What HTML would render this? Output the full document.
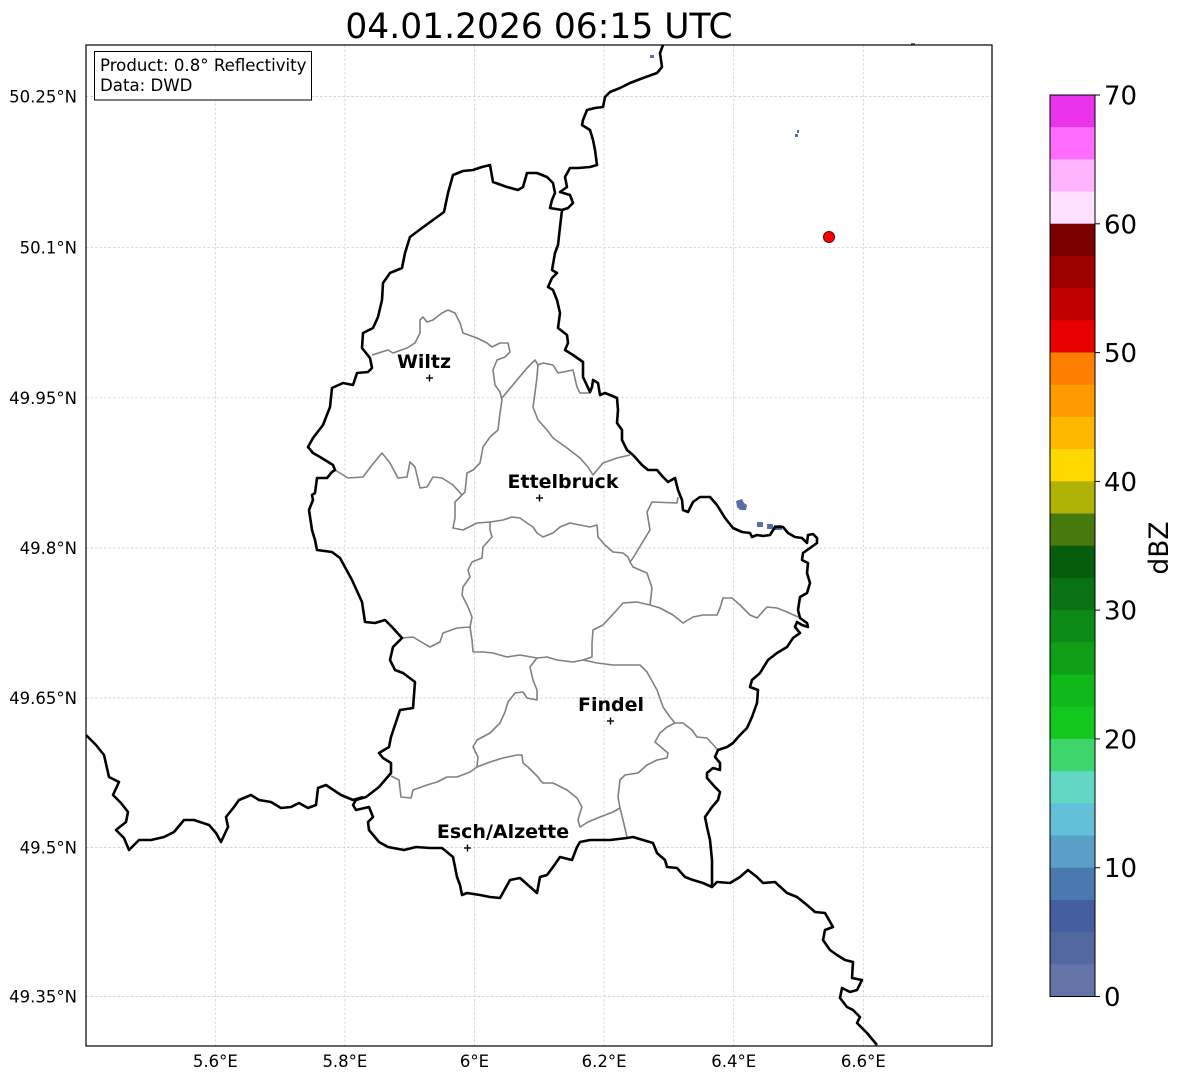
<!DOCTYPE html>
<html><head><meta charset="utf-8"><style>
html,body{margin:0;padding:0;background:#fff;}
svg{display:block;}
text{font-family:"DejaVu Sans","Liberation Sans",sans-serif;}
</style></head><body>
<svg width="1184" height="1081" viewBox="0 0 1184 1081" xmlns="http://www.w3.org/2000/svg">
<rect width="1184" height="1081" fill="#fff"/>
<text x="539" y="38" font-size="34.5" text-anchor="middle" fill="#000">04.01.2026 06:15 UTC</text>

<!-- gridlines -->
<g stroke="#c8c8c8" stroke-width="0.7" stroke-dasharray="2.5,2" fill="none">
<line x1="86" y1="96.5" x2="992" y2="96.5"/>
<line x1="86" y1="247.3" x2="992" y2="247.3"/>
<line x1="86" y1="397.8" x2="992" y2="397.8"/>
<line x1="86" y1="548" x2="992" y2="548"/>
<line x1="86" y1="698" x2="992" y2="698"/>
<line x1="86" y1="847.6" x2="992" y2="847.6"/>
<line x1="86" y1="996.5" x2="992" y2="996.5"/>
<line x1="215.3" y1="45" x2="215.3" y2="1046"/>
<line x1="344.9" y1="45" x2="344.9" y2="1046"/>
<line x1="474.5" y1="45" x2="474.5" y2="1046"/>
<line x1="604.1" y1="45" x2="604.1" y2="1046"/>
<line x1="733.7" y1="45" x2="733.7" y2="1046"/>
<line x1="863.3" y1="45" x2="863.3" y2="1046"/>
</g>

<!-- radar echoes -->
<g fill="#5a6ea6">
<polygon points="736,501 742,499 744,503 747,505 746,510 740,510 737,507"/>
<rect x="757" y="522" width="6" height="5"/>
<rect x="767" y="524" width="6" height="5"/>
<rect x="774" y="525" width="8" height="5"/>
<rect x="650" y="55" width="4" height="3"/>
<rect x="797" y="130" width="2" height="3"/>
<rect x="795" y="134" width="3" height="3"/>
<rect x="911" y="43" width="4" height="2"/>
</g>

<!-- canton lines -->
<g stroke="#808080" stroke-width="1.6" fill="none" stroke-linejoin="round">
<polyline points="372,355 388,350 393,353 407,348 415,343 420,333 420,320 423,317 427,322 433,320 442,313 448,310 455,313 460,323 463,333 477,338 487,343 492,347 500,343 508,343 510,352 505,357 497,360 493,370 495,385 500,392 502,400 500,413 498,430 490,437 483,447 480,463 473,470 467,473 465,492 462,495"/>
<polyline points="502,398 517,380 527,368 535,360 538,365 537,377 535,393 533,407 538,420 547,430 553,438 567,448 580,458 588,467 593,475 603,463 617,458 630,455"/>
<polyline points="538,365 543,363 553,365 558,373 573,370 577,387 580,393 590,393"/>
<polyline points="335,470 348,478 363,477 372,465 382,453 390,463 398,478 407,477 410,462 415,467 420,488 427,487 433,477 442,478 453,485 462,495"/>
<polyline points="462,495 455,502 455,518 453,528 463,530 477,523 490,522 503,520 512,517 520,518 527,523 533,527 537,533 543,537 553,533 560,527 570,523 580,525 590,527 597,525 598,537 605,545 613,552 623,553 628,557 630,562 633,567 647,573 652,588 650,605"/>
<polyline points="630,562 633,558 642,543 650,530 647,512 652,502 677,503 678,497"/>
<polyline points="490,522 490,530 492,537 483,547 482,558 472,562 468,570 470,577 463,587 462,595 468,607 472,617 470,627 472,640 473,652"/>
<polyline points="402,638 413,637 423,643 430,647 440,642 443,633 457,628 470,627"/>
<polyline points="473,652 483,652 493,653 507,657 520,655 537,658 547,657 557,660 573,662 583,660 592,657 592,643 593,630 603,625 615,612 623,603 637,602 650,605 660,608 673,615 683,623 693,617 703,615 717,615 720,608 723,598 732,598 740,605 750,615 757,618 767,607 777,608 787,612 798,617"/>
<polyline points="583,660 597,663 613,665 640,665 647,672 657,690 663,707 670,717 675,723 683,723 692,730 697,737 707,738 718,750"/>
<polyline points="537,658 530,667 533,680 537,690 537,700 527,698 523,692 515,693 508,702 505,712 500,723 490,733 477,740 473,747 478,757 477,767"/>
<polyline points="391,776 399,780 401,797 411,798 413,790 427,785 437,782 447,777 457,777 470,772 477,767"/>
<polyline points="477,767 490,762 503,758 517,755 522,755 523,763 528,767 533,772 538,777 540,780 543,783 553,783 567,790 577,798 582,807 580,813 578,820 580,827 588,822 600,817 613,812 620,808 623,820 627,837"/>
<polyline points="620,808 618,797 620,780 625,775 638,773 647,765 657,760 667,758 668,753 662,748 655,742 660,733 667,727 675,723"/>
</g>

<!-- national borders -->
<g stroke="#000" stroke-width="2.6" fill="none" stroke-linejoin="round">
<polyline points="663,45 660,53 662,67 657,73 643,78 630,83 620,88 610,92 605,97 603,107 595,108 587,110 583,120 582,125 590,130 593,140 595,150 597,165 590,167 578,168 570,168 565,177 567,187 560,192 570,195 573,203 568,208 562,210"/>
<polyline points="562,210 550,208 552,200 555,193 553,183 547,177 537,173 527,173 523,187 518,190 507,187 493,182 490,165 482,167 473,170 463,171 453,175 448,193 444,212 433,220 422,228 410,237 405,253 402,268 390,273 383,283 382,300 378,317 373,328 363,333 362,348 370,358 372,368 368,372 357,373 353,385 343,383 332,388 330,407 323,425 313,438 308,447 313,453 320,457 333,465 335,470 332,472 327,478 317,478 315,493 312,495 313,500 309,510 312,530 315,540 317,550 332,552 340,558 352,580 362,602 365,622 375,623 385,620 392,627 402,638 393,647 390,660 395,670 403,673 415,682 413,708 400,710 395,725 391,737 389,747 379,753 383,758 391,763 391,773 379,787 366,797 356,800 353,805 356,810 369,807 373,817 368,822 369,830 379,842 388,847 404,850 416,847 430,848 442,848 453,857 457,877 460,885 462,895 467,893 480,895 490,897 500,898 510,880 520,878 537,893 540,877 547,875 553,867 560,857 572,860 577,847 580,842 590,840 610,840 627,838 633,837 643,840 653,843 657,853 665,860 667,867 677,868 685,877 693,880 703,883 712,887 712,860 710,840 707,827 705,817 712,807 718,800 720,792 715,787 707,778 707,773 713,768 720,770 720,763 715,757 718,750 727,747 733,743 740,735 747,728 752,717 757,703 758,690 750,687 752,680 760,673 768,660 777,653 787,647 793,638 800,633 795,627 797,622 802,625 808,627 807,623 800,618 798,610 800,597 807,593 810,583 807,573 808,563 802,560 803,553 810,548 817,543 817,538 813,534 808,535 807,543 802,538 795,537 788,533 783,527 775,527 770,535 763,536 757,535 752,537 750,533 742,532 733,528 725,518 717,505 710,497 700,497 693,502 688,512 683,510 682,500 678,490 675,478 668,482 663,477 657,470 648,470 642,465 633,455 627,450 622,440 622,430 617,423 618,410 617,398 610,395 605,393 600,395 598,383 593,380 592,387 590,392 583,377 583,362 573,355 565,350 568,343 567,335 558,328 560,313 557,300 553,290 548,287 552,278 557,273 552,270 555,253 558,245 560,227 562,210"/>
<polyline points="86,735 96,745 104,755 109,777 119,782 113,795 121,803 128,812 126,822 116,830 124,838 129,850 139,840 151,840 164,837 174,832 184,820 194,820 209,825 216,833 221,842 228,827 226,817 234,807 239,800 251,795 259,800 271,802 281,808 291,807 299,803 308,808 316,805 318,788 326,785 341,795 353,800 363,797"/>
<polyline points="712,887 717,882 730,883 740,877 748,870 757,877 763,883 775,882 787,893 797,897 807,905 815,912 825,913 833,927 825,930 823,940 830,950 837,955 845,960 853,962 852,978 862,980 857,990 850,992 842,988 840,998 847,1007 853,1010 860,1017 857,1023 867,1033 877,1045"/>
</g>

<!-- radar site -->
<circle cx="829" cy="237" r="5.5" fill="#ff0000" stroke="#5a0000" stroke-width="1"/>

<!-- cities -->
<g stroke="#000" stroke-width="1.4">
<line x1="426" y1="378" x2="433" y2="378"/><line x1="429.5" y1="374.5" x2="429.5" y2="381.5"/>
<line x1="536" y1="498" x2="543" y2="498"/><line x1="539.5" y1="494.5" x2="539.5" y2="501.5"/>
<line x1="607" y1="721" x2="614" y2="721"/><line x1="610.5" y1="717.5" x2="610.5" y2="724.5"/>
<line x1="464" y1="848" x2="471" y2="848"/><line x1="467.5" y1="844.5" x2="467.5" y2="851.5"/>
</g>
<g font-size="19" font-weight="bold" fill="#000" text-anchor="middle">
<text x="424" y="368">Wiltz</text>
<text x="563" y="488">Ettelbruck</text>
<text x="611" y="711">Findel</text>
<text x="503" y="838">Esch/Alzette</text>
</g>

<!-- info box -->
<rect x="94.5" y="51.5" width="217" height="48.5" fill="#fff" stroke="#000" stroke-width="1"/>
<text x="100" y="71" font-size="16.6" fill="#000">Product: 0.8° Reflectivity</text>
<text x="100" y="91" font-size="16.6" fill="#000">Data: DWD</text>

<!-- frame -->
<rect x="86" y="45" width="906" height="1001" fill="none" stroke="#000" stroke-width="1.2"/>

<!-- axis labels -->
<g font-size="16.5" fill="#000" text-anchor="end">
<text x="77" y="102.5">50.25°N</text>
<text x="77" y="253.3">50.1°N</text>
<text x="77" y="403.8">49.95°N</text>
<text x="77" y="554">49.8°N</text>
<text x="77" y="704">49.65°N</text>
<text x="77" y="853.6">49.5°N</text>
<text x="77" y="1002.5">49.35°N</text>
</g>
<g font-size="16.5" fill="#000" text-anchor="middle">
<text x="215.3" y="1067">5.6°E</text>
<text x="344.9" y="1067">5.8°E</text>
<text x="474.5" y="1067">6°E</text>
<text x="604.1" y="1067">6.2°E</text>
<text x="733.7" y="1067">6.4°E</text>
<text x="863.3" y="1067">6.6°E</text>
</g>

<!-- colorbar -->
<g>
<rect x="1050" y="963.8" width="45" height="32.7" fill="#6574a7"/>
<rect x="1050" y="931.6" width="45" height="32.7" fill="#53689f"/>
<rect x="1050" y="899.4" width="45" height="32.7" fill="#445e9f"/>
<rect x="1050" y="867.2" width="45" height="32.7" fill="#4a79b0"/>
<rect x="1050" y="835" width="45" height="32.7" fill="#5a9fc7"/>
<rect x="1050" y="802.8" width="45" height="32.7" fill="#63c0d8"/>
<rect x="1050" y="770.6" width="45" height="32.7" fill="#61d7c4"/>
<rect x="1050" y="738.4" width="45" height="32.7" fill="#3ed56d"/>
<rect x="1050" y="706.2" width="45" height="32.7" fill="#12c81c"/>
<rect x="1050" y="674" width="45" height="32.7" fill="#10b81a"/>
<rect x="1050" y="641.8" width="45" height="32.7" fill="#0f9e16"/>
<rect x="1050" y="609.6" width="45" height="32.7" fill="#0c8a18"/>
<rect x="1050" y="577.4" width="45" height="32.7" fill="#0a7212"/>
<rect x="1050" y="545.2" width="45" height="32.7" fill="#065d0c"/>
<rect x="1050" y="513" width="45" height="32.7" fill="#467a0c"/>
<rect x="1050" y="480.8" width="45" height="32.7" fill="#b0b205"/>
<rect x="1050" y="448.6" width="45" height="32.7" fill="#ffd800"/>
<rect x="1050" y="416.4" width="45" height="32.7" fill="#ffb800"/>
<rect x="1050" y="384.2" width="45" height="32.7" fill="#ff9a00"/>
<rect x="1050" y="352" width="45" height="32.7" fill="#ff7f00"/>
<rect x="1050" y="319.8" width="45" height="32.7" fill="#e60000"/>
<rect x="1050" y="287.6" width="45" height="32.7" fill="#c00000"/>
<rect x="1050" y="255.4" width="45" height="32.7" fill="#9e0000"/>
<rect x="1050" y="223.2" width="45" height="32.7" fill="#7a0000"/>
<rect x="1050" y="191" width="45" height="32.7" fill="#ffe0ff"/>
<rect x="1050" y="158.8" width="45" height="32.7" fill="#ffb4ff"/>
<rect x="1050" y="126.6" width="45" height="32.7" fill="#ff6cff"/>
<rect x="1050" y="95" width="45" height="32" fill="#ea33ea"/>
<rect x="1050" y="95" width="45" height="901.5" fill="none" stroke="#000" stroke-width="1"/>
</g>
<g stroke="#000" stroke-width="1">
<line x1="1095" y1="95" x2="1100" y2="95"/>
<line x1="1095" y1="223.8" x2="1100" y2="223.8"/>
<line x1="1095" y1="352.6" x2="1100" y2="352.6"/>
<line x1="1095" y1="481.4" x2="1100" y2="481.4"/>
<line x1="1095" y1="610.1" x2="1100" y2="610.1"/>
<line x1="1095" y1="738.9" x2="1100" y2="738.9"/>
<line x1="1095" y1="867.7" x2="1100" y2="867.7"/>
<line x1="1095" y1="996.5" x2="1100" y2="996.5"/>
</g>
<g font-size="26" fill="#000">
<text x="1104" y="104.5">70</text>
<text x="1104" y="233.3">60</text>
<text x="1104" y="362.1">50</text>
<text x="1104" y="490.9">40</text>
<text x="1104" y="619.6">30</text>
<text x="1104" y="748.4">20</text>
<text x="1104" y="877.2">10</text>
<text x="1104" y="1006">0</text>
</g>
<text x="0" y="0" font-size="26.5" fill="#000" text-anchor="middle" transform="translate(1168,548) rotate(-90)">dBZ</text>
</svg>
</body></html>
